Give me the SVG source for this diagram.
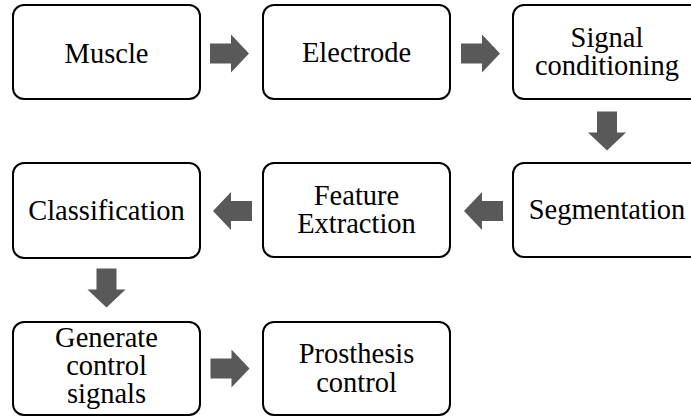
<svg xmlns="http://www.w3.org/2000/svg" xmlns:xlink="http://www.w3.org/1999/xlink" width="691" height="416" viewBox="0 0 691 416">
  <style>
    .box { fill: #ffffff; stroke: #000000; stroke-width: 2; }
    .lbl { font-family: "Liberation Serif", "Times New Roman", serif; font-size: 28.5px; fill: #000000; text-anchor: middle; }
    .arr { fill: #595959; }
  </style>
  <defs>
    <!-- block arrow pointing right, origin at the tail centre -->
    <path id="blockArrow" d="M0,-10 H21 V-19 L39,0 L21,19 V10 H0 Z"/>
  </defs>
  <rect width="691" height="416" fill="#ffffff"/>

  <g id="connectors" class="arr">
    <use xlink:href="#blockArrow" transform="translate(210,53.5)"/>
    <use xlink:href="#blockArrow" transform="translate(461,53.5)"/>
    <use xlink:href="#blockArrow" transform="translate(607,111.5) rotate(90)"/>
    <use xlink:href="#blockArrow" transform="translate(503,211) rotate(180)"/>
    <use xlink:href="#blockArrow" transform="translate(252,211) rotate(180)"/>
    <use xlink:href="#blockArrow" transform="translate(106.5,268.5) rotate(90)"/>
    <use xlink:href="#blockArrow" transform="translate(210.5,368.5)"/>
  </g>

  <g id="muscle">
    <rect class="box" x="13" y="5" width="187" height="94" rx="11"/>
    <text class="lbl" x="106.5" y="63">Muscle</text>
  </g>
  <g id="electrode">
    <rect class="box" x="263" y="5" width="187" height="94" rx="11"/>
    <text class="lbl" x="356.5" y="62">Electrode</text>
  </g>
  <g id="signal-conditioning">
    <rect class="box" x="513" y="5" width="188" height="94" rx="11"/>
    <text class="lbl" x="607" y="47">Signal</text>
    <text class="lbl" x="607" y="75">conditioning</text>
  </g>
  <g id="segmentation">
    <rect class="box" x="513" y="163" width="188" height="94" rx="11"/>
    <text class="lbl" x="607" y="219">Segmentation</text>
  </g>
  <g id="feature-extraction">
    <rect class="box" x="263" y="163" width="187" height="94" rx="11"/>
    <text class="lbl" x="356.5" y="205">Feature</text>
    <text class="lbl" x="356.5" y="233">Extraction</text>
  </g>
  <g id="classification">
    <rect class="box" x="13" y="163" width="187" height="95" rx="11"/>
    <text class="lbl" x="106.5" y="220">Classification</text>
  </g>
  <g id="generate-control-signals">
    <rect class="box" x="13" y="322" width="187" height="93" rx="11"/>
    <text class="lbl" x="106.5" y="347">Generate</text>
    <text class="lbl" x="106.5" y="375">control</text>
    <text class="lbl" x="106.5" y="403">signals</text>
  </g>
  <g id="prosthesis-control">
    <rect class="box" x="263" y="322" width="187" height="93" rx="11"/>
    <text class="lbl" x="356.5" y="363">Prosthesis</text>
    <text class="lbl" x="356.5" y="391.5">control</text>
  </g>
</svg>
